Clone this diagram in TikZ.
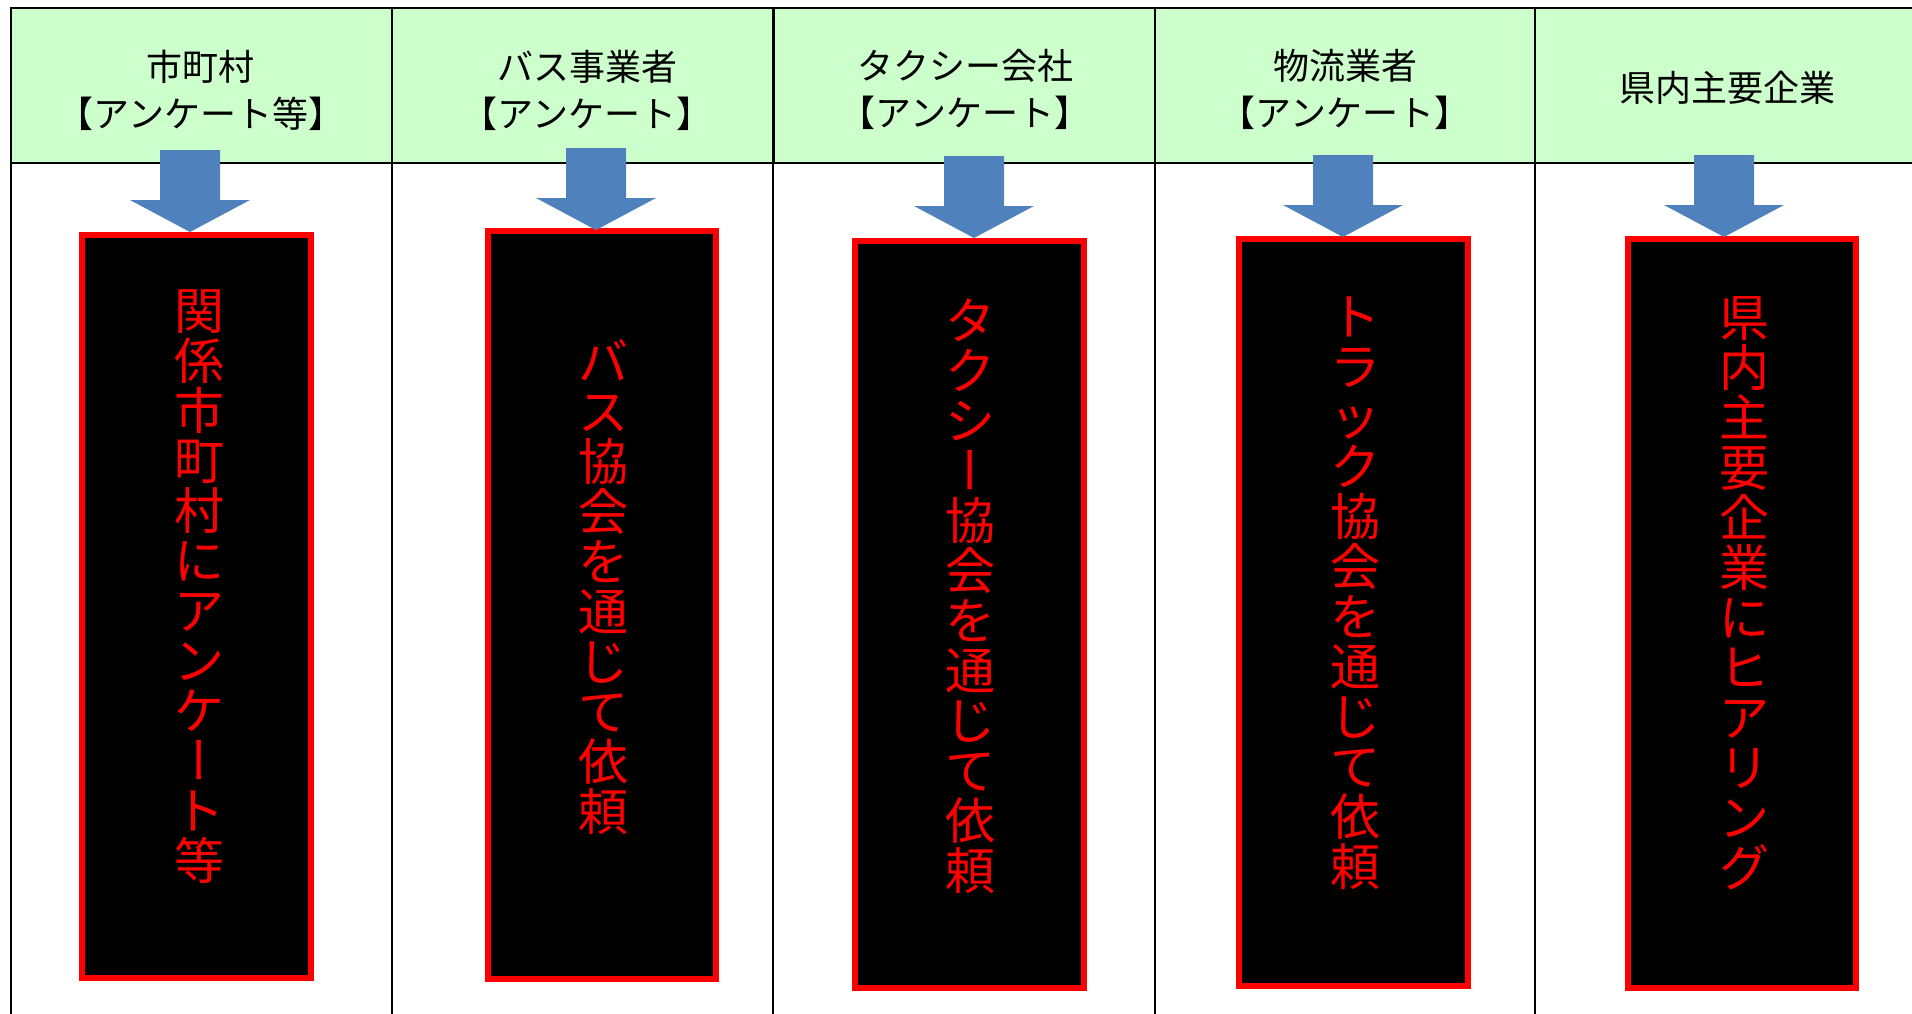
\documentclass[tikz,border=0pt]{standalone}
\usepackage{fontspec}
\usepackage{graphicx}
\newfontfamily\jp{Noto Sans CJK JP}
\newfontfamily\jpv[RawFeature=+vert]{Noto Sans CJK JP}
\definecolor{hdrgreen}{HTML}{CCFFCC}
\definecolor{arrowblue}{HTML}{4F81BD}
\newcommand{\vlong}{{\jpv ー}}
\newcommand{\blockarrow}[1]{\fill[arrowblue] (#1) -- ++(-60,-32) -- ++(30,0) -- ++(0,-50) -- ++(60,0) -- ++(0,50) -- ++(30,0) -- cycle;}
\begin{document}
\begin{tikzpicture}[x=1pt,y=-1pt,
  gridline/.style={line width=2pt,black},
  hdrcell/.style={rectangle,fill=hdrgreen,draw=black,line width=2pt,inner sep=0pt,minimum width=381pt,minimum height=155pt},
  hdrtext/.style={font=\jp\fontsize{36}{47}\selectfont,align=center,inner sep=0pt,text=black},
  redbox/.style={rectangle,draw=red,fill=black,line width=6pt,inner sep=0pt},
  vtext/.style={font=\jp\fontsize{50}{50}\selectfont,align=center,inner sep=0pt,text=red}]
\useasboundingbox (0,0) rectangle (1912,1013);
% header cells
\node[hdrcell] (c1) at (201.5,85.5) {};
\node[hdrcell] (c2) at (582.5,85.5) {};
\node[hdrcell] (c3) at (964,85.5) {};
\node[hdrcell] (c4) at (1345,85.5) {};
\node[hdrcell] (c5) at (1725.5,85.5) {};
% body column lines
\draw[gridline] (11,163) -- (11,1030);
\draw[gridline] (392,163) -- (392,1030);
\draw[gridline] (773,163) -- (773,1030);
\draw[gridline] (1155,163) -- (1155,1030);
\draw[gridline] (1535,163) -- (1535,1030);
% header texts
\node[hdrtext] (h1) at (201,90) {市町村\\【アンケート等】};
\node[hdrtext] (h2) at (587,90) {バス事業者\\【アンケート】};
\node[hdrtext] (h3) at (965,89) {タクシー会社\\【アンケート】};
\node[hdrtext] (h4) at (1345,89) {物流業者\\【アンケート】};
\node[hdrtext] (h5) at (1727,88) {県内主要企業};
% red boxes
\node[redbox,minimum width=229pt,minimum height=743pt] (b1) at (196.5,606.5) {};
\node[redbox,minimum width=228pt,minimum height=748pt] (b2) at (602,605) {};
\node[redbox,minimum width=229pt,minimum height=747pt] (b3) at (969.5,614.5) {};
\node[redbox,minimum width=229pt,minimum height=747pt] (b4) at (1353.5,612.5) {};
\node[redbox,minimum width=228pt,minimum height=749pt] (b5) at (1742,613.5) {};
% arrows
\coordinate (a1) at (190,232);
\coordinate (a2) at (596,230);
\coordinate (a3) at (974,238);
\coordinate (a4) at (1343,237);
\coordinate (a5) at (1724,237);
\blockarrow{a1}
\blockarrow{a2}
\blockarrow{a3}
\blockarrow{a4}
\blockarrow{a5}
% vertical texts
\node[vtext] (t1) at (199,586.5) {関\\係\\市\\町\\村\\に\\ア\\ン\\ケ\\\vlong\\ト\\等};
\node[vtext] (t2) at (603,587) {バ\\ス\\協\\会\\を\\通\\じ\\て\\依\\頼};
\node[vtext] (t3) at (970.5,596.5) {タ\\ク\\シ\\\vlong\\協\\会\\を\\通\\じ\\て\\依\\頼};
\node[vtext] (t4) at (1355,593.5) {ト\\ラ\\ッ\\ク\\協\\会\\を\\通\\じ\\て\\依\\頼};
\node[vtext] (t5) at (1744,593.5) {県\\内\\主\\要\\企\\業\\に\\ヒ\\ア\\リ\\ン\\グ};
\end{tikzpicture}
\end{document}
